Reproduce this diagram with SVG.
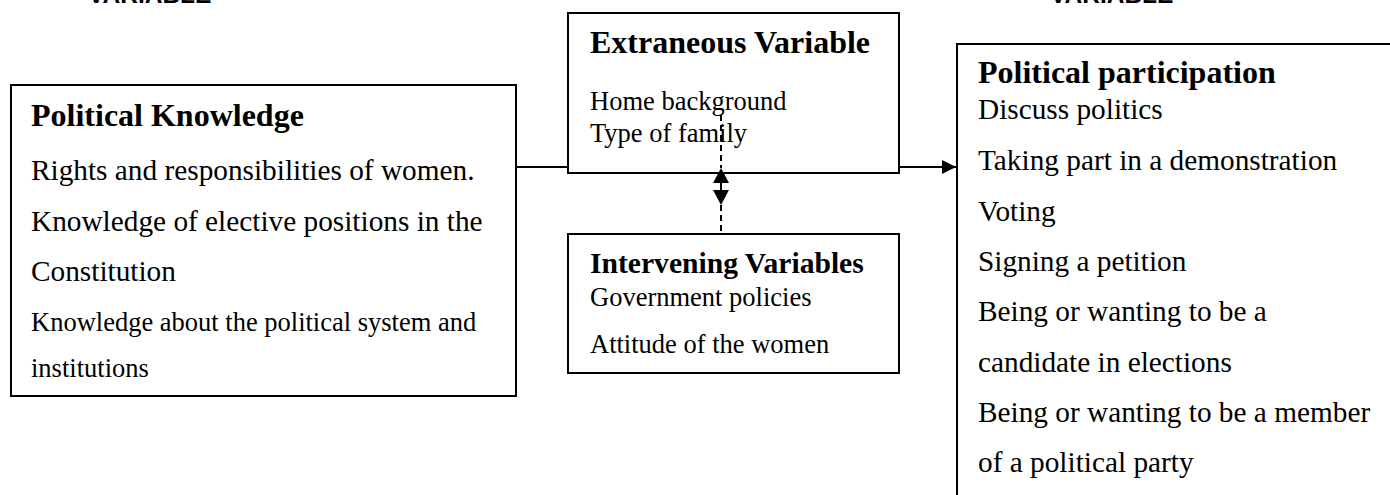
<svg xmlns="http://www.w3.org/2000/svg" width="1390" height="495" viewBox="0 0 1390 495">
<style>
.box{fill:#fff;stroke:#000;stroke-width:2}
.h{font-family:"Liberation Serif","Times New Roman",serif;font-weight:bold;font-size:32px;fill:#000}
.h2{font-family:"Liberation Serif","Times New Roman",serif;font-weight:bold;font-size:29.6px;fill:#000}
.t{font-family:"Liberation Serif","Times New Roman",serif;font-size:29.3px;fill:#000}
.s{font-family:"Liberation Serif","Times New Roman",serif;font-size:26.5px;fill:#000}
.top{font-family:"Liberation Sans",Arial,sans-serif;font-weight:bold;font-size:24.5px;fill:#000}
.ln{stroke:#000;stroke-width:2;fill:none}
.dash{stroke:#000;stroke-width:2;fill:none;stroke-dasharray:6,4}
</style>
<defs>
<marker id="arr" markerWidth="14" markerHeight="14" refX="14" refY="7" orient="auto" markerUnits="userSpaceOnUse">
<path d="M0,0 L14,7 L0,14 Z" fill="#000"/>
</marker>
</defs>
<text class="top" x="88" y="3">VARIABLE</text>
<text class="top" x="1050" y="3">VARIABLE</text>
<g id="political-knowledge">
<rect class="box" x="11" y="85" width="505" height="311"/>
<text class="h" x="31" y="126">Political Knowledge</text>
<text class="t" x="31" y="180">Rights and responsibilities of women.</text>
<text class="t" x="31" y="231">Knowledge of elective positions in the</text>
<text class="t" x="31" y="281">Constitution</text>
<text class="s" x="31" y="331">Knowledge about the political system and</text>
<text class="s" x="31" y="377">institutions</text>
</g>
<g id="extraneous">
<rect class="box" x="568" y="13" width="331" height="160"/>
<text class="h" x="590" y="53">Extraneous Variable</text>
<text class="s" x="590" y="110">Home background</text>
<text class="s" x="590" y="142">Type of family</text>
</g>
<g id="intervening">
<rect class="box" x="568" y="234" width="331" height="139"/>
<text class="h2" x="590" y="273">Intervening Variables</text>
<text class="s" x="590" y="306">Government policies</text>
<text class="s" x="590" y="353">Attitude of the women</text>
</g>
<g id="political-participation">
<rect class="box" x="957" y="44" width="460" height="480"/>
<text class="h" x="978" y="83">Political participation</text>
<text class="t" x="978" y="119">Discuss politics</text>
<text class="t" x="978" y="170">Taking part in a demonstration</text>
<text class="t" x="978" y="221">Voting</text>
<text class="t" x="978" y="271">Signing a petition</text>
<text class="t" x="978" y="321">Being or wanting to be a</text>
<text class="t" x="978" y="372">candidate in elections</text>
<text class="t" x="978" y="422">Being or wanting to be a member</text>
<text class="t" x="978" y="472">of a political party</text>
</g>
<g id="connectors">
<line class="ln" x1="516" y1="167" x2="568" y2="167"/>
<line class="ln" x1="899" y1="167" x2="956" y2="167" marker-end="url(#arr)"/>
<line class="dash" x1="721" y1="115" x2="721" y2="168"/>
<line class="dash" x1="721" y1="205" x2="721" y2="234"/>
<path d="M721,168 L729,183 L713,183 Z" fill="#000"/>
<path d="M713,190 L729,190 L721,205 Z" fill="#000"/>
<line class="ln" x1="721" y1="183" x2="721" y2="190"/>
</g>
</svg>
